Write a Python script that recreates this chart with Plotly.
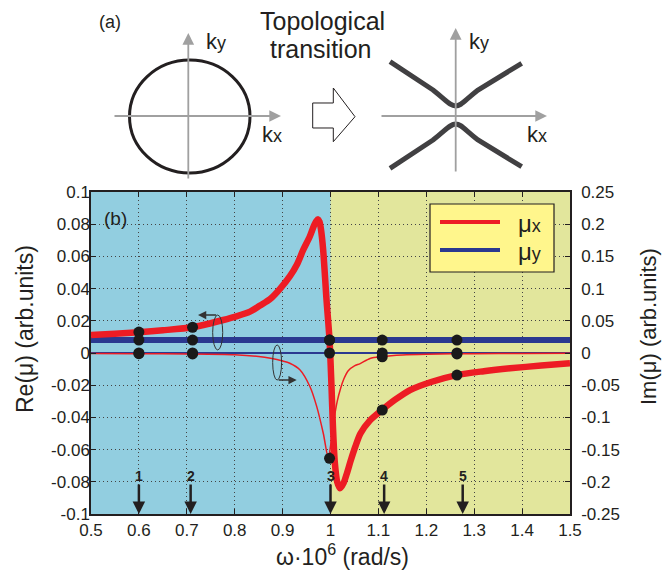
import plotly.graph_objects as go

# ---------------- data ----------------
w_re_mux = [0.50, 0.55, 0.60, 0.65, 0.712, 0.75, 0.776, 0.80, 0.832, 0.853, 0.874, 0.895,
            0.9153, 0.93, 0.943, 0.957, 0.966, 0.970, 0.974, 0.977, 0.980, 0.9847, 0.9917,
            0.998, 1.002, 1.005, 1.009, 1.014, 1.020, 1.027, 1.035, 1.042, 1.052, 1.0625,
            1.082, 1.1075, 1.135, 1.166, 1.21, 1.2635, 1.32, 1.375, 1.44, 1.50]
re_mux = [0.0112, 0.0120, 0.0129, 0.0141, 0.0160, 0.0185, 0.0205, 0.0225, 0.0257, 0.0295,
          0.0335, 0.0400, 0.0477, 0.0550, 0.0640, 0.0725, 0.0795, 0.0818, 0.0830, 0.0815,
          0.0770, 0.0640, 0.0330, 0.0080, -0.0200, -0.0450, -0.0680, -0.0800, -0.0840,
          -0.0810, -0.0740, -0.0670, -0.0580, -0.0500, -0.0420, -0.0354, -0.0290, -0.0230,
          -0.0180, -0.0137, -0.0113, -0.0095, -0.0078, -0.0064]

w_im_mux = [0.50, 0.60, 0.70, 0.80, 0.85, 0.875, 0.90, 0.915, 0.936, 0.957, 0.971, 0.985,
            0.9955, 1.000, 1.007, 1.014, 1.021, 1.028, 1.037, 1.05, 1.062, 1.0825, 1.108,
            1.15, 1.20, 1.30, 1.40, 1.50]
im_mux = [-0.0008, -0.0010, -0.0015, -0.0028, -0.0055, -0.0083, -0.0125, -0.0160, -0.0260,
          -0.0520, -0.0825, -0.1250, -0.1635, -0.1450, -0.1050, -0.0750, -0.0550, -0.0400,
          -0.0275, -0.0200, -0.0165, -0.0085, -0.0055, -0.0030, -0.0018, -0.0010, -0.0007,
          -0.0005]

w_flat = [0.5, 1.5]
re_muy = [0.008, 0.008]
im_muy = [0.0, 0.0]

dot_w = [0.6, 0.712, 0.998, 1.108, 1.264]
dot_re_mux = [0.013, 0.016, 0.008, -0.0354, -0.0137]
dot_re_muy = [0.008, 0.008, 0.008, 0.008, 0.008]
dot_im_mux = [-0.001, -0.0015, -0.1635, -0.0058, -0.0015]
dot_im_muy = [0.0, 0.0, 0.0, 0.0, 0.0]

arrow_w = [0.6, 0.708, 1.0, 1.112, 1.276]
arrow_labels = ["1", "2", "3", "4", "5"]

x_ticks = [0.5, 0.6, 0.7, 0.8, 0.9, 1.0, 1.1, 1.2, 1.3, 1.4, 1.5]
x_ticktext = ["0.5", "0.6", "0.7", "0.8", "0.9", "1", "1.1", "1.2", "1.3", "1.4", "1.5"]
yl_ticks = [0.1, 0.08, 0.06, 0.04, 0.02, 0, -0.02, -0.04, -0.06, -0.08, -0.1]
yl_ticktext = ["0.1", "0.08", "0.06", "0.04", "0.02", "0", "-0.02", "-0.04", "-0.06", "-0.08", "-0.1"]
yr_ticks = [0.25, 0.2, 0.15, 0.1, 0.05, 0, -0.05, -0.1, -0.15, -0.2, -0.25]
yr_ticktext = ["0.25", "0.2", "0.15", "0.1", "0.05", "0", "-0.05", "-0.1", "-0.15", "-0.2", "-0.25"]

# ---------------- style ----------------
RED = "#ED1C24"
NAVY = "#2B3990"
BLUE_BG = "#92CEE0"
YELLOW_BG = "#E2E69C"
LEG_BG = "#FFF68C"
INK = "#231F20"
FONT = "Arial, Liberation Sans, sans-serif"

W, H = 662, 575
ML, MR, MT, MB = 91, 92, 192, 61
PW, PH = W - ML - MR, H - MT - MB


def P(px):
    return (px - ML) / PW


def Q(py):
    return (H - MB - py) / PH


def pt(px, py):
    return f"{P(px):.5f},{Q(py):.5f}"


def label(x_, y_, text, size, **kw):
    d = dict(x=P(x_), y=Q(y_), xref="paper", yref="paper", text=text, showarrow=False,
             xanchor="center", yanchor="middle", font=dict(family=FONT, size=size, color=INK))
    d.update(kw)
    return d


fig = go.Figure()

# lines
fig.add_trace(go.Scatter(x=w_flat, y=im_muy, yaxis="y2", mode="lines",
                         line=dict(color=NAVY, width=2), showlegend=False))
fig.add_trace(go.Scatter(x=w_im_mux, y=im_mux, yaxis="y2", mode="lines",
                         line=dict(color=RED, width=1.5, shape="spline", smoothing=0.8), showlegend=False))
fig.add_trace(go.Scatter(x=w_flat, y=re_muy, mode="lines",
                         line=dict(color=NAVY, width=6), showlegend=False))
fig.add_trace(go.Scatter(x=w_re_mux, y=re_mux, mode="lines",
                         line=dict(color=RED, width=6.5, shape="spline", smoothing=0.8), showlegend=False))

# dots
dot_style = dict(color="#1A1A1A", size=11)
fig.add_trace(go.Scatter(x=dot_w, y=dot_re_mux, mode="markers", marker=dot_style, showlegend=False))
fig.add_trace(go.Scatter(x=dot_w, y=dot_re_muy, mode="markers", marker=dot_style, showlegend=False))
fig.add_trace(go.Scatter(x=dot_w, y=dot_im_mux, yaxis="y2", mode="markers", marker=dot_style, showlegend=False))
fig.add_trace(go.Scatter(x=dot_w, y=dot_im_muy, yaxis="y2", mode="markers", marker=dot_style, showlegend=False))

shapes = []
annotations = []

# background regions
shapes.append(dict(type="rect", xref="x", yref="paper", x0=0.5, x1=1.0, y0=0, y1=1,
                   fillcolor=BLUE_BG, line=dict(width=0), layer="below"))

# ellipses with arrows
shapes.append(dict(type="circle", xref="x", yref="y", x0=0.754, x1=0.775, y0=0.0019, y1=0.0236,
                   line=dict(color="#333333", width=1)))
shapes.append(dict(type="circle", xref="x", yref="y", x0=0.8793, x1=0.8979, y0=-0.0168, y1=0.005,
                   line=dict(color="#333333", width=1)))
annotations.append(dict(x=0.7234, y=0.0236, xref="x", yref="y", ax=0.7645, ay=0.0236,
                        axref="x", ayref="y", text="", showarrow=True, arrowhead=2,
                        arrowsize=1.1, arrowwidth=1.5, arrowcolor="#333333"))
annotations.append(dict(x=0.9294, y=-0.0168, xref="x", yref="y", ax=0.8886, ay=-0.0168,
                        axref="x", ayref="y", text="", showarrow=True, arrowhead=2,
                        arrowsize=1.1, arrowwidth=1.5, arrowcolor="#333333"))

# numbered arrows at bottom
for w, lab in zip(arrow_w, arrow_labels):
    annotations.append(dict(x=w, y=-0.1, xref="x", yref="y", ax=0, ay=-38, text=f"<b>{lab}</b>",
                            showarrow=True, arrowhead=2, arrowsize=1.0, arrowwidth=2.5,
                            arrowcolor=INK, font=dict(family=FONT, size=14, color=INK),
                            borderpad=0, standoff=0))

# (b) label
annotations.append(label(115, 218, "(b)", 19))

# legend (manual)
shapes.append(dict(type="rect", xref="paper", yref="paper", x0=P(430), x1=P(554), y0=Q(272), y1=Q(204),
                   fillcolor=LEG_BG, line=dict(color=INK, width=1.2), layer="above"))
shapes.append(dict(type="line", xref="paper", yref="paper", x0=P(440), x1=P(500), y0=Q(222), y1=Q(222),
                   line=dict(color=RED, width=4), layer="above"))
shapes.append(dict(type="line", xref="paper", yref="paper", x0=P(440), x1=P(500), y0=Q(250), y1=Q(250),
                   line=dict(color=NAVY, width=4), layer="above"))
annotations.append(label(516, 223, "μ<span style='font-size:18px'>x</span>", 24, xanchor="left"))
annotations.append(label(516, 251, "μ<span style='font-size:18px'>y</span>", 24, xanchor="left"))

# axis titles
annotations.append(label(25, 329, "Re(μ) (arb.units)", 23, textangle=-90))
annotations.append(label(648, 327, "Im(μ) (arb.units)", 22, textangle=-90))
annotations.append(label(342, 555, "ω·10<sup>6</sup> (rad/s)", 23))

# ---------------- panel (a) schematic ----------------
GRAY = "#A0A0A0"
for hx, hy, ax_, ay_ in [(188.3, 33, 0, 147), (281, 116, -168, 0), (455.7, 28, 0, 145), (547, 116, -167, 0)]:
    annotations.append(dict(x=P(hx), y=Q(hy), xref="paper", yref="paper", ax=ax_, ay=ay_, text="",
                            showarrow=True, arrowhead=2, arrowsize=1.3, arrowwidth=1.8, arrowcolor=GRAY))

shapes.append(dict(type="circle", xref="paper", yref="paper", x0=P(129.5), x1=P(250), y0=Q(173), y1=Q(60),
                   line=dict(color=INK, width=3)))
upper = ("M " + pt(390, 61.7) + " L " + pt(433, 90) + " C " + pt(447, 101) + " " + pt(450, 106) + " "
         + pt(455.7, 106) + " C " + pt(461, 106) + " " + pt(464, 101) + " " + pt(478, 90) + " L "
         + pt(521.7, 63.3))
lower = ("M " + pt(390, 168.3) + " L " + pt(433, 140) + " C " + pt(447, 129) + " " + pt(450, 124) + " "
         + pt(455.7, 124) + " C " + pt(461, 124) + " " + pt(464, 129) + " " + pt(478, 140) + " L "
         + pt(521.7, 166.7))
for pth in (upper, lower):
    shapes.append(dict(type="path", xref="paper", yref="paper", path=pth,
                       line=dict(color="#414042", width=5)))
block = ("M " + pt(312.7, 103) + " L " + pt(333.3, 103) + " L " + pt(333.3, 88) + " L " + pt(355, 116.7)
         + " L " + pt(333.3, 141.7) + " L " + pt(333.3, 128) + " L " + pt(312.7, 128) + " Z")
shapes.append(dict(type="path", xref="paper", yref="paper", path=block, fillcolor="white",
                   line=dict(color=INK, width=1)))

ky = "k<span style='font-size:18px'>y</span>"
kx = "k<span style='font-size:18px'>x</span>"
for t, x_, y_ in [(ky, 216, 42), (kx, 272, 134), (ky, 479, 42), (kx, 537, 134)]:
    annotations.append(label(x_, y_, t, 22))
annotations.append(label(110, 22, "(a)", 18))
annotations.append(label(322, 21, "Topological", 25))
annotations.append(label(320, 49, "transition", 25))

axis_common = dict(ticks="inside", ticklen=5, tickcolor=INK, showline=True, linecolor=INK, linewidth=1.5,
                   tickfont=dict(family=FONT, size=17, color=INK), zeroline=False)

fig.update_layout(
    width=W, height=H,
    margin=dict(l=ML, r=MR, t=MT, b=MB, pad=0),
    paper_bgcolor="white",
    plot_bgcolor=YELLOW_BG,
    showlegend=False,
    xaxis=dict(range=[0.5, 1.5], tickvals=x_ticks, ticktext=x_ticktext, mirror="ticks",
               showgrid=True, gridcolor="#444444", griddash="1px,3px", gridwidth=1, **axis_common),
    yaxis=dict(range=[-0.1, 0.1], tickvals=yl_ticks, ticktext=yl_ticktext, mirror=True,
               showgrid=True, gridcolor="#444444", griddash="1px,3px", gridwidth=1, ticklabelstandoff=-4,
               **axis_common),
    yaxis2=dict(range=[-0.25, 0.25], tickvals=yr_ticks, ticktext=yr_ticktext, overlaying="y", side="right",
                showgrid=False, ticklabelstandoff=6, **axis_common),
    shapes=shapes,
    annotations=annotations,
)

fig.write_html("out.html", config={"displayModeBar": False},
               post_script="document.body.style.margin='0px';")
